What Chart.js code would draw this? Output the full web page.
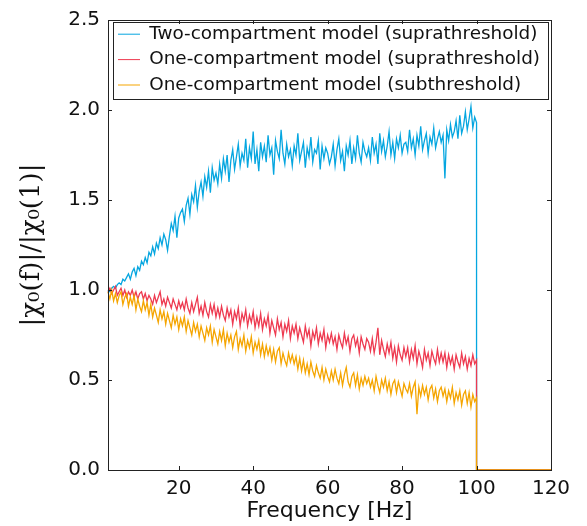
<!DOCTYPE html>
<html>
<head>
<meta charset="utf-8">
<script src="https://cdn.jsdelivr.net/npm/chart.js@4/dist/chart.umd.min.js"></script>
<style>
  body { margin: 0; background: #ffffff; }
  #wrap { width: 587px; height: 526px; }
</style>
</head>
<body>
<div id="wrap"><canvas id="chi" width="587" height="526"></canvas></div>
<script>
// frequency grid: 1 Hz .. 100 Hz, every 0.5 Hz
const fStart = 1;
const fStep = 0.5;

const twoCompSupra = [
  1.00, 0.99, 1.01, 1.02, 1.01, 1.03, 1.04, 1.03, 1.06, 1.05, 1.07, 1.09, 1.06, 1.10, 1.12, 1.08, 1.13, 1.11, 1.16, 1.14,
  1.18, 1.15, 1.21, 1.19, 1.24, 1.20, 1.26, 1.23, 1.29, 1.25, 1.31, 1.28, 1.22, 1.30, 1.37, 1.33, 1.41, 1.29, 1.40, 1.43,
  1.45, 1.38, 1.47, 1.51, 1.42, 1.53, 1.49, 1.58, 1.46, 1.55, 1.60, 1.52, 1.63, 1.57, 1.66, 1.54, 1.68, 1.61, 1.65, 1.59,
  1.70, 1.62, 1.73, 1.66, 1.75, 1.60, 1.72, 1.78, 1.67, 1.74, 1.81, 1.69, 1.76, 1.72, 1.84, 1.68, 1.79, 1.73, 1.88, 1.70,
  1.78, 1.66, 1.82, 1.74, 1.80, 1.71, 1.86, 1.75, 1.79, 1.64, 1.83, 1.77, 1.73, 1.89, 1.76, 1.70, 1.81, 1.74, 1.78, 1.69,
  1.80, 1.75, 1.87, 1.72, 1.77, 1.82, 1.68, 1.79, 1.74, 1.85, 1.71, 1.78, 1.76, 1.83, 1.67, 1.80, 1.73, 1.79, 1.76, 1.70,
  1.74, 1.81, 1.69, 1.78, 1.84, 1.72, 1.77, 1.66, 1.80, 1.75, 1.83, 1.70, 1.79, 1.73, 1.86, 1.76, 1.71, 1.82, 1.77, 1.74,
  1.79, 1.72, 1.85, 1.76, 1.81, 1.70, 1.87, 1.77, 1.83, 1.74, 1.80, 1.88, 1.75, 1.82, 1.73, 1.84, 1.79, 1.86, 1.76, 1.81,
  1.82, 1.77, 1.89, 1.79, 1.84, 1.75, 1.86, 1.80, 1.91, 1.78, 1.83, 1.87, 1.76, 1.85, 1.81, 1.90, 1.79, 1.84, 1.88, 1.82,
  1.86, 1.62, 1.89, 1.83, 1.92, 1.85, 1.88, 1.94, 1.84, 1.97, 1.87, 1.91, 1.99, 1.89, 1.95, 2.02, 1.90, 1.96, 1.93
];

const oneCompSupra = [
  0.99, 1.01, 0.98, 1.00, 1.02, 0.97, 0.99, 1.01, 0.97, 1.00, 0.96, 0.99, 0.97, 1.00, 0.96, 0.99, 0.95, 0.98, 0.99, 0.95,
  0.98, 0.94, 0.97, 0.95, 0.92, 0.97, 0.93, 0.96, 0.99, 0.92, 0.95, 0.91, 0.96, 0.93, 0.90, 0.95, 0.92, 0.89, 0.94, 0.90,
  0.93, 0.89, 0.95, 0.90, 0.87, 0.93, 0.88, 0.92, 0.96, 0.87, 0.91, 0.86, 0.93, 0.88, 0.85, 0.92, 0.87, 0.92, 0.85, 0.90,
  0.85, 0.91, 0.86, 0.83, 0.90, 0.85, 0.89, 0.81, 0.88, 0.84, 0.90, 0.80, 0.87, 0.83, 0.89, 0.80, 0.86, 0.82, 0.88, 0.79,
  0.85, 0.80, 0.87, 0.78, 0.84, 0.80, 0.86, 0.76, 0.83, 0.79, 0.75, 0.84, 0.78, 0.82, 0.74, 0.81, 0.77, 0.83, 0.73, 0.80,
  0.76, 0.81, 0.73, 0.79, 0.75, 0.71, 0.80, 0.74, 0.78, 0.69, 0.77, 0.73, 0.79, 0.70, 0.76, 0.72, 0.78, 0.68, 0.75, 0.71,
  0.76, 0.70, 0.74, 0.67, 0.75, 0.71, 0.68, 0.76, 0.70, 0.74, 0.66, 0.73, 0.75, 0.69, 0.73, 0.65, 0.74, 0.70, 0.67, 0.73,
  0.71, 0.66, 0.73, 0.65, 0.71, 0.79, 0.64, 0.72, 0.67, 0.63, 0.70, 0.65, 0.71, 0.62, 0.68, 0.60, 0.69, 0.64, 0.61, 0.68,
  0.63, 0.68, 0.60, 0.67, 0.62, 0.69, 0.59, 0.66, 0.62, 0.57, 0.67, 0.61, 0.65, 0.58, 0.66, 0.62, 0.59, 0.67, 0.60, 0.65,
  0.60, 0.65, 0.57, 0.64, 0.59, 0.63, 0.56, 0.64, 0.60, 0.57, 0.65, 0.59, 0.63, 0.56, 0.62, 0.58, 0.64, 0.59, 0.61
];

const oneCompSub = [
  0.99, 0.95, 1.00, 0.94, 0.98, 0.93, 0.97, 0.99, 0.92, 0.96, 0.98, 0.91, 0.96, 0.92, 0.97, 0.89, 0.95, 0.91, 0.88, 0.94,
  0.89, 0.93, 0.86, 0.92, 0.85, 0.90, 0.86, 0.82, 0.89, 0.84, 0.88, 0.81, 0.87, 0.83, 0.79, 0.86, 0.81, 0.85, 0.78, 0.84,
  0.80, 0.85, 0.77, 0.83, 0.79, 0.75, 0.82, 0.77, 0.81, 0.74, 0.80, 0.76, 0.72, 0.79, 0.75, 0.80, 0.71, 0.78, 0.74, 0.70,
  0.77, 0.72, 0.78, 0.69, 0.76, 0.71, 0.75, 0.68, 0.74, 0.77, 0.67, 0.73, 0.69, 0.75, 0.66, 0.72, 0.68, 0.74, 0.65, 0.71,
  0.67, 0.72, 0.64, 0.70, 0.63, 0.69, 0.64, 0.68, 0.61, 0.67, 0.60, 0.66, 0.68, 0.59, 0.65, 0.61, 0.58, 0.65, 0.60, 0.64,
  0.59, 0.63, 0.56, 0.62, 0.55, 0.61, 0.54, 0.59, 0.53, 0.60, 0.55, 0.52, 0.58, 0.54, 0.51, 0.57, 0.50, 0.56, 0.52, 0.49,
  0.55, 0.50, 0.56, 0.51, 0.48, 0.54, 0.47, 0.53, 0.57, 0.49, 0.46, 0.52, 0.54, 0.47, 0.53, 0.45, 0.51, 0.47, 0.52, 0.48,
  0.51, 0.46, 0.50, 0.44, 0.52, 0.47, 0.43, 0.50, 0.46, 0.51, 0.44, 0.49, 0.42, 0.48, 0.50, 0.43, 0.49, 0.45, 0.41, 0.48,
  0.45, 0.43, 0.48, 0.41, 0.46, 0.49, 0.31, 0.46, 0.41, 0.47, 0.42, 0.46, 0.39, 0.45, 0.47, 0.40, 0.45, 0.38, 0.44, 0.46,
  0.41, 0.45, 0.38, 0.44, 0.40, 0.46, 0.37, 0.43, 0.39, 0.44, 0.36, 0.42, 0.44, 0.37, 0.43, 0.35, 0.42, 0.38, 0.40
];

// all traces fall to zero past 100 Hz
const tailFreqs = [100, 120];
const tailValues = [0, 0];

const xTicks = [20, 40, 60, 80, 100, 120];
const yTicks = [0, 0.5, 1.0, 1.5, 2.0, 2.5];

const seriesLabels = [
  "Two-compartment model (suprathreshold)",
  "One-compartment model (suprathreshold)",
  "One-compartment model (subthreshold)",
];
const seriesColors = ["#05a6e0", "#ee3a50", "#f5a500"];

function toPoints(vals) {
  const pts = vals.map((v, i) => ({ x: fStart + i * fStep, y: v }));
  tailFreqs.forEach((f, i) => pts.push({ x: f, y: tailValues[i] }));
  return pts;
}

// frame + inward ticks on all four sides, box round the legend
const frameTicks = {
  id: "frameTicks",
  afterLayout(chart) {
    // legend sits inside the plot area, a little below the top frame
    const lg = chart.legend;
    if (!lg) return;
    const dy = chart.chartArea.top - 2 - lg.top;
    lg.top += dy;
    lg.bottom += dy;
    lg.left += 3;
    lg.right += 3;
  },
  afterDatasetsDraw(chart) {
    const { ctx, chartArea: a, scales } = chart;
    const len = 4;
    ctx.save();
    ctx.strokeStyle = "#222";
    ctx.lineWidth = 1;
    ctx.beginPath();
    xTicks.forEach((t) => {
      const px = Math.round(scales.x.getPixelForValue(t)) + 0.5;
      ctx.moveTo(px, a.bottom);
      ctx.lineTo(px, a.bottom - len);
      ctx.moveTo(px, a.top);
      ctx.lineTo(px, a.top + len);
    });
    yTicks.forEach((t) => {
      const py = Math.round(scales.y.getPixelForValue(t)) + 0.5;
      ctx.moveTo(a.left, py);
      ctx.lineTo(a.left + len, py);
      ctx.moveTo(a.right, py);
      ctx.lineTo(a.right - len, py);
    });
    ctx.stroke();
    ctx.strokeRect(Math.round(a.left) + 0.5, Math.round(a.top) + 0.5,
      Math.round(a.right - a.left), Math.round(a.bottom - a.top));
    ctx.restore();
  },
  afterDraw(chart) {
    const lg = chart.legend;
    if (!lg || !lg.legendHitBoxes || !lg.legendHitBoxes.length) return;
    const hb = lg.legendHitBoxes;
    const a = chart.chartArea;
    const last = hb[hb.length - 1];
    const ctx = chart.ctx;
    ctx.save();
    ctx.strokeStyle = "#222";
    ctx.lineWidth = 1;
    const l = Math.round(hb[0].left - 5) + 0.5;
    const t = Math.round(hb[0].top - 3) + 0.5;
    const r = Math.round(a.right - 3) + 0.5;
    const b = Math.round(last.top + last.height + 5) + 0.5;
    ctx.strokeRect(l, t, r - l, b - t);
    ctx.restore();
  },
};

Chart.defaults.font.family = "'DejaVu Sans', sans-serif";
Chart.defaults.color = "#111";

const ctx = document.getElementById("chi").getContext("2d");
new Chart(ctx, {
  type: "line",
  data: {
    datasets: [
      { label: seriesLabels[0], data: toPoints(twoCompSupra), borderColor: seriesColors[0], backgroundColor: seriesColors[0], order: 2 },
      { label: seriesLabels[1], data: toPoints(oneCompSupra), borderColor: seriesColors[1], backgroundColor: seriesColors[1], order: 1 },
      { label: seriesLabels[2], data: toPoints(oneCompSub), borderColor: seriesColors[2], backgroundColor: seriesColors[2], order: 0 },
    ],
  },
  options: {
    responsive: false,
    animation: false,
    layout: { padding: { top: 14, right: 36, bottom: 0, left: 0 } },
    elements: {
      point: { radius: 0 },
      line: { borderWidth: 1.3, tension: 0 },
    },
    datasets: { line: { clip: false } },
    scales: {
      x: {
        type: "linear",
        min: 1,
        max: 120,
        afterBuildTicks: (s) => { s.ticks = xTicks.map((v) => ({ value: v })); },
        afterFit: (s) => { s.height = 56; },
        grid: { display: false, drawTicks: false },
        border: { display: false },
        ticks: { font: { size: 20 }, padding: 7, maxRotation: 0, color: "#111" },
        title: { display: true, text: "Frequency [Hz]", font: { size: 22 }, padding: { top: 0, bottom: 2 }, color: "#111" },
      },
      y: {
        min: 0,
        max: 2.5,
        afterBuildTicks: (s) => { s.ticks = yTicks.map((v) => ({ value: v })); },
        afterFit: (s) => { s.width = 108; },
        grid: { display: false, drawTicks: false },
        border: { display: false },
        ticks: { font: { size: 20 }, padding: 8, color: "#111", callback: (v) => v.toFixed(1) },
        title: {
          display: true,
          text: "|\u03c7\u2080(f)|/|\u03c7\u2080(1)|",
          font: { family: "'DejaVu Serif', serif", size: 26 },
          padding: { top: 17, bottom: 0 },
          color: "#111",
        },
      },
    },
    plugins: {
      legend: {
        position: "chartArea",
        align: "start",
        labels: {
          font: { size: 18.4 },
          color: "#111",
          usePointStyle: true,
          pointStyle: "line",
          pointStyleWidth: 22,
          boxWidth: 22,
          padding: 7,
          sort: (a, b) => a.datasetIndex - b.datasetIndex,
        },
      },
      tooltip: { enabled: false },
    },
  },
  plugins: [frameTicks],
});
</script>
</body>
</html>
